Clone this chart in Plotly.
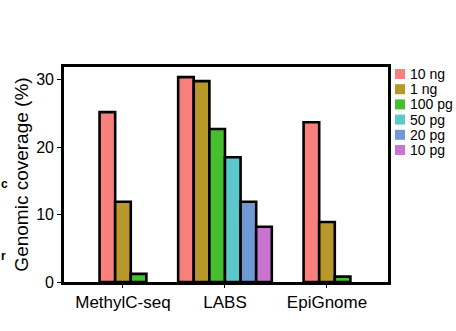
import plotly.graph_objects as go

methods = ["MethylC-seq", "LABS", "EpiGnome"]
inputs = ["10 ng", "1 ng", "100 pg", "50 pg", "20 pg", "10 pg"]
colors = ["#F8807D", "#B8982A", "#46BE30", "#5CC8CB", "#6F9AD6", "#C874D0"]
cov_10ng = [25.2, 30.4, 23.7]
cov_1ng = [11.9, 29.8, 8.9]
cov_100pg = [1.2, 22.7, 0.8]
cov_50pg = [None, 18.5, None]
cov_20pg = [None, 11.9, None]
cov_10pg = [None, 8.2, None]
series = [cov_10ng, cov_1ng, cov_100pg, cov_50pg, cov_20pg, cov_10pg]
y_ticks = [0, 10, 20, 30]

W, H = 456, 331
ML, MR, MT, MB = 64, 68, 67, 49
pw, ph = W - ML - MR, H - MT - MB
FONT = "Liberation Sans, Arial, Helvetica, sans-serif"

bw = 0.153
fig = go.Figure()
for si, (name, col, vals) in enumerate(zip(inputs, colors, series)):
    xs, ys = [], []
    for gi, v in enumerate(vals):
        if v is None:
            continue
        present = [k for k in range(len(series)) if series[k][gi] is not None]
        n = len(present)
        idx = present.index(si)
        xs.append(gi + (idx - (n - 1) / 2) * bw)
        ys.append(v)
    fig.add_trace(go.Bar(
        x=xs, y=ys, width=bw, name=name, showlegend=False,
        marker=dict(color=col, line=dict(color="black", width=2.6)),
    ))

# manual legend (swatches + text)
def px_x(p):
    return (p - ML) / pw

def px_y(p):
    return (H - MB - p) / ph

for i, (name, col) in enumerate(zip(inputs, colors)):
    cy = 74 + 15.2 * i
    fig.add_shape(type="rect", xref="paper", yref="paper",
                  x0=px_x(395), x1=px_x(405), y0=px_y(cy + 5), y1=px_y(cy - 5),
                  fillcolor=col, line=dict(width=0))
    fig.add_annotation(xref="paper", yref="paper", x=px_x(408), y=px_y(cy),
                       text=name, showarrow=False, xanchor="left", yanchor="middle",
                       font=dict(size=14, color="black", family=FONT))

# cropped fragments from neighbouring panel
fig.add_annotation(xref="paper", yref="paper", x=px_x(-1), y=px_y(184), text="<b>c</b>",
                   showarrow=False, xanchor="left", yanchor="middle",
                   font=dict(size=12, color="black", family=FONT))
fig.add_annotation(xref="paper", yref="paper", x=px_x(-1), y=px_y(256), text="<b>r</b>",
                   showarrow=False, xanchor="left", yanchor="middle",
                   font=dict(size=12, color="black", family=FONT))

fig.update_layout(
    width=W, height=H,
    margin=dict(l=ML, r=MR, t=MT, b=MB, pad=0),
    paper_bgcolor="white", plot_bgcolor="white",
    barmode="overlay", showlegend=False,
    font=dict(family=FONT, color="black"),
)
fig.update_xaxes(
    range=[-0.578, 2.598], tickvals=[0, 1, 2], ticktext=methods,
    showline=True, linecolor="black", linewidth=2.6, mirror=True,
    ticks="outside", ticklen=3, tickwidth=1, tickcolor="black",
    showgrid=False, zeroline=False, tickfont=dict(size=17, color="black"),
)
fig.update_yaxes(
    range=[0, 31.9], tickvals=y_ticks,
    showline=True, linecolor="black", linewidth=2.6, mirror=True,
    ticks="outside", ticklen=4, tickwidth=1, tickcolor="black",
    showgrid=False, zeroline=False, tickfont=dict(size=16, color="black"),
    title=dict(text="Genomic coverage (%)", font=dict(size=19, color="black"), standoff=3),
)
fig.write_html("out.html")
